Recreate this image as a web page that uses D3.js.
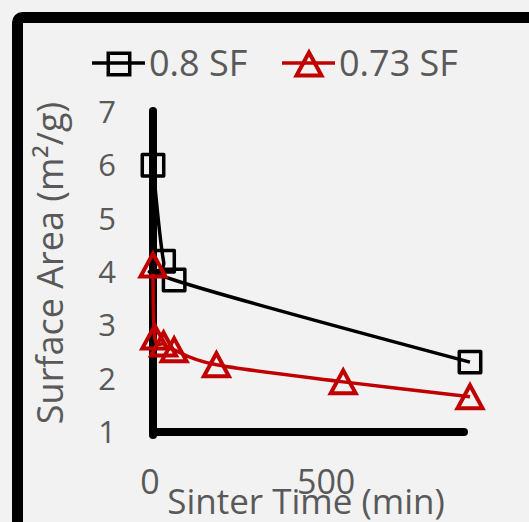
<!DOCTYPE html>
<html>
	<head>
		<title>Surface Area vs Sinter Time</title>
		<script src="https://d3js.org/d3.v7.min.js" charset="utf-8"></script>
		<style>
			body {
				margin: 0;
				background: #f2f2f2;
				font-family: "Open Sans", sans-serif;
			}
			text {
				fill: #595959;
			}
		</style>
	</head>
	<body>
		<script>
		// data
		var seriesNames = ["0.8 SF", "0.73 SF"];
		var timeSF08 = [0, 30, 60, 900];
		var areaSF08 = [6.0, 4.2, 3.85, 2.31];
		var timeSF073 = [0, 5, 30, 60, 180, 540, 900];
		var areaSF073 = [4.13, 2.78, 2.65, 2.54, 2.26, 1.94, 1.66];
		var xTicks = [0, 500];
		var yTicks = [1, 2, 3, 4, 5, 6, 7];

		var width = 529;
		var height = 522;

		var black = "#000000";
		var red = "#c00000";

		var svg = d3.select("body")
			.append("svg")
			.attr("width", width)
			.attr("height", height);

		svg.append("rect")
			.attr("width", width)
			.attr("height", height)
			.attr("fill", "#f2f2f2");

		// thick frame, runs off the right and bottom edges
		svg.append("rect")
			.attr("x", 17.5)
			.attr("y", 17.5)
			.attr("width", 700)
			.attr("height", 700)
			.attr("rx", 5)
			.attr("fill", "none")
			.attr("stroke", "#000")
			.attr("stroke-width", 11);

		var x = d3.scaleLinear().domain([0, 900]).range([153, 470]);
		var y = d3.scaleLinear().domain([1, 7]).range([432, 112]);

		// axis lines
		var axes = svg.append("g");
		axes.append("line")
			.attr("x1", x(0)).attr("x2", x(0))
			.attr("y1", y(7) - 1).attr("y2", y(1) + 3)
			.attr("stroke", "#000")
			.attr("stroke-width", 8)
			.attr("stroke-linecap", "round");
		axes.append("line")
			.attr("x1", x(0)).attr("x2", x(883))
			.attr("y1", y(1)).attr("y2", y(1))
			.attr("stroke", "#000")
			.attr("stroke-width", 8)
			.attr("stroke-linecap", "round");

		// tick labels
		svg.append("g").selectAll("text")
			.data(yTicks)
			.enter()
			.append("text")
			.attr("x", 107)
			.attr("y", function(d){ return y(d); })
			.attr("dy", "0.36em")
			.attr("text-anchor", "middle")
			.attr("font-size", 31)
			.text(function(d){ return d; });

		svg.append("g").selectAll("text")
			.data(xTicks)
			.enter()
			.append("text")
			.attr("x", function(d){ return x(d) - 3; })
			.attr("y", 494)
			.attr("text-anchor", "middle")
			.attr("font-size", 34)
			.text(function(d){ return d; });

		// axis titles
		svg.append("text")
			.attr("x", 306)
			.attr("y", 514)
			.attr("text-anchor", "middle")
			.attr("font-size", 35)
			.text("Sinter Time (min)");

		svg.append("text")
			.attr("transform", "translate(63,263) rotate(-90)")
			.attr("text-anchor", "middle")
			.attr("font-size", 36)
			.text("Surface Area (m²/g)");

		// smoothed series lines
		var line = d3.line()
			.x(function(d){ return x(d[0]); })
			.y(function(d){ return y(d[1]); })
			.curve(d3.curveCatmullRom.alpha(0));

		var pts08 = d3.zip(timeSF08, areaSF08);
		var pts073 = d3.zip(timeSF073, areaSF073);

		svg.append("path")
			.datum(pts08)
			.attr("fill", "none")
			.attr("stroke", black)
			.attr("stroke-width", 3.5)
			.attr("d", line);

		svg.append("path")
			.datum(pts073)
			.attr("fill", "none")
			.attr("stroke", red)
			.attr("stroke-width", 3.5)
			.attr("d", line);

		var square = d3.symbol().type(d3.symbolSquare).size(460);
		var triangle = "M0,-11.5L12.5,11.5L-12.5,11.5Z";

		svg.append("g").selectAll("path")
			.data(pts08)
			.enter()
			.append("path")
			.attr("transform", function(d){ return "translate(" + x(d[0]) + "," + y(d[1]) + ")"; })
			.attr("d", square)
			.attr("fill", "none")
			.attr("stroke", black)
			.attr("stroke-width", 3.5)
			.attr("stroke-linejoin", "round");

		svg.append("g").selectAll("path")
			.data(pts073)
			.enter()
			.append("path")
			.attr("transform", function(d){ return "translate(" + x(d[0]) + "," + y(d[1]) + ")"; })
			.attr("d", triangle)
			.attr("fill", "none")
			.attr("stroke", red)
			.attr("stroke-width", 4)
			.attr("stroke-linejoin", "miter");

		// legend
		var legend = svg.append("g");
		var legendItems = [
			{name: seriesNames[0], color: black, x: 92, marker: square},
			{name: seriesNames[1], color: red, x: 282, marker: triangle}
		];
		legendItems.forEach(function(it){
			legend.append("line")
				.attr("x1", it.x).attr("x2", it.x + 53)
				.attr("y1", 63).attr("y2", 63)
				.attr("stroke", it.color)
				.attr("stroke-width", 3.5);
			legend.append("path")
				.attr("transform", "translate(" + (it.x + 27) + ",64)")
				.attr("d", it.marker)
				.attr("fill", "none")
				.attr("stroke", it.color)
				.attr("stroke-width", it.color == red ? 4 : 3.5);
			legend.append("text")
				.attr("x", it.x + 57)
				.attr("y", 76)
				.attr("font-size", 36)
				.text(it.name);
		});
		</script>
	</body>
</html>
